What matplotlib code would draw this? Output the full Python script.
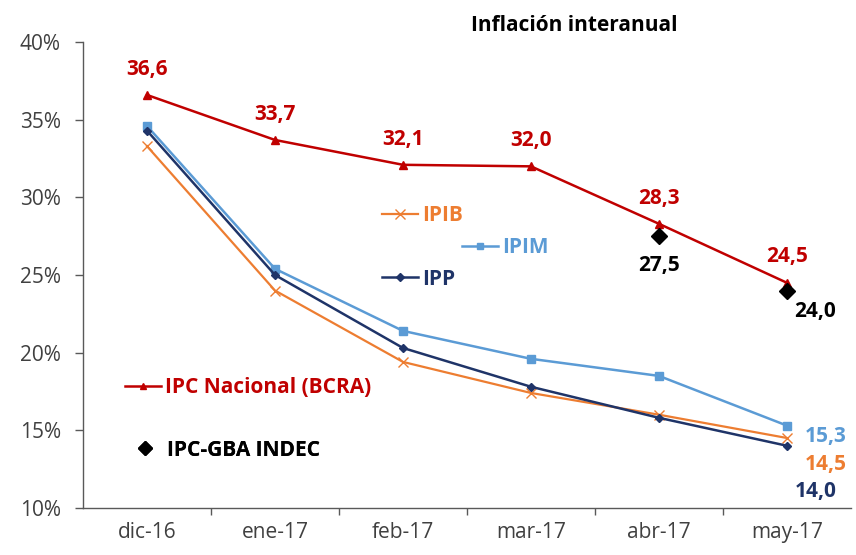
import matplotlib.pyplot as plt
from matplotlib.lines import Line2D
from matplotlib.ticker import FuncFormatter, FixedLocator

plt.rcParams['font.family'] = ['Open Sans', 'DejaVu Sans']

months = ['dic-16', 'ene-17', 'feb-17', 'mar-17', 'abr-17', 'may-17']
ipc_bcra = [36.6, 33.7, 32.1, 32.0, 28.3, 24.5]
ipim = [34.6, 25.4, 21.4, 19.6, 18.5, 15.3]
ipp = [34.3, 25.0, 20.3, 17.8, 15.8, 14.0]
ipib = [33.3, 24.0, 19.4, 17.4, 16.0, 14.5]
gba_months = ['abr-17', 'may-17']
gba = [27.5, 24.0]

RED = '#C00000'
LBLUE = '#5B9BD5'
ORANGE = '#ED7D31'
NAVY = '#1F3468'
AXIS = '#595959'
FS = 15

fig = plt.figure(figsize=(8.56, 5.55), dpi=100)
ax = fig.add_axes([0.097, 0.085, 0.897, 0.839])

x = list(range(len(months)))
gx = [months.index(m) for m in gba_months]

ax.plot(x, ipib, color=ORANGE, lw=1.6, marker='x', ms=7, mew=1.0)
ax.plot(x, ipim, color=LBLUE, lw=1.8, marker='s', ms=6)
ax.plot(x, ipp, color=NAVY, lw=1.8, marker='D', ms=4.5)
ax.plot(x, ipc_bcra, color=RED, lw=1.8, marker='^', ms=6)
ax.plot(gx, gba, ls='none', color='black', marker='D', ms=8)

def fmt(v):
    return f'{v:.1f}'.replace('.', ',')

# data labels
for xi, v in zip(x, ipc_bcra):
    ax.annotate(fmt(v), (xi, v), xytext=(0, 11), textcoords='offset points',
                ha='center', va='bottom', color=RED, fontsize=FS, fontweight='bold')
for xi, v, off in zip(gx, gba, [(0, -21), (20, -15)]):
    ax.annotate(fmt(v), (xi, v), xytext=off, textcoords='offset points',
                ha='center', va='center', color='black', fontsize=FS, fontweight='bold')
last = len(months) - 1
for vals, col, off in [(ipim, LBLUE, (13, -8)), (ipib, ORANGE, (13, -19)), (ipp, NAVY, (6, -33))]:
    ax.annotate(fmt(vals[last]), (last, vals[last]), xytext=off,
                textcoords='offset points', ha='left', va='center', color=col,
                fontsize=FS, fontweight='bold')

# inline legends
def add_leg(handle, label, color, anchor):
    leg = ax.legend([handle], [label], loc='center left', bbox_to_anchor=anchor,
                    frameon=False, handlelength=1.7, handletextpad=0.2, borderpad=0,
                    borderaxespad=0, prop={'size': FS, 'weight': 'bold'}, labelcolor=color)
    ax.add_artist(leg)

add_leg(Line2D([], [], color=ORANGE, lw=1.6, marker='x', ms=7), 'IPIB', ORANGE, (0.39, 0.627))
add_leg(Line2D([], [], color=LBLUE, lw=1.8, marker='s', ms=5), 'IPIM', LBLUE, (0.494, 0.558))
add_leg(Line2D([], [], color=NAVY, lw=1.8, marker='D', ms=4), 'IPP', NAVY, (0.39, 0.491))
add_leg(Line2D([], [], color=RED, lw=1.8, marker='^', ms=5), 'IPC Nacional (BCRA)', RED, (0.055, 0.258))
add_leg(Line2D([], [], ls='none', color='black', marker='D', ms=7), 'IPC-GBA INDEC', 'black', (0.058, 0.124))

ax.set_title('Inflación interanual', fontsize=FS, fontweight='bold', x=0.64, y=1.0, pad=8)

ax.set_xlim(-0.5, len(months) - 0.5)
ax.set_ylim(10, 40)
ax.set_yticks(range(10, 41, 5))
ax.yaxis.set_major_formatter(FuncFormatter(lambda v, p: f'{v:.0f}%'))
ax.set_xticks(x)
ax.set_xticklabels(months)
ax.xaxis.set_minor_locator(FixedLocator([i + 0.5 for i in x[:-1]]))
ax.tick_params(axis='y', labelsize=FS, colors='#404040', length=6, direction='out', width=1,
               color=AXIS, pad=10)
ax.tick_params(axis='x', which='major', labelsize=FS, colors='#404040', length=0, pad=10)
ax.tick_params(axis='x', which='minor', length=5, width=1, color=AXIS, direction='out')
for side in ['top', 'right']:
    ax.spines[side].set_visible(False)
for side in ['left', 'bottom']:
    ax.spines[side].set_color(AXIS)
    ax.spines[side].set_linewidth(1)

fig.savefig('out.png', dpi=100)
